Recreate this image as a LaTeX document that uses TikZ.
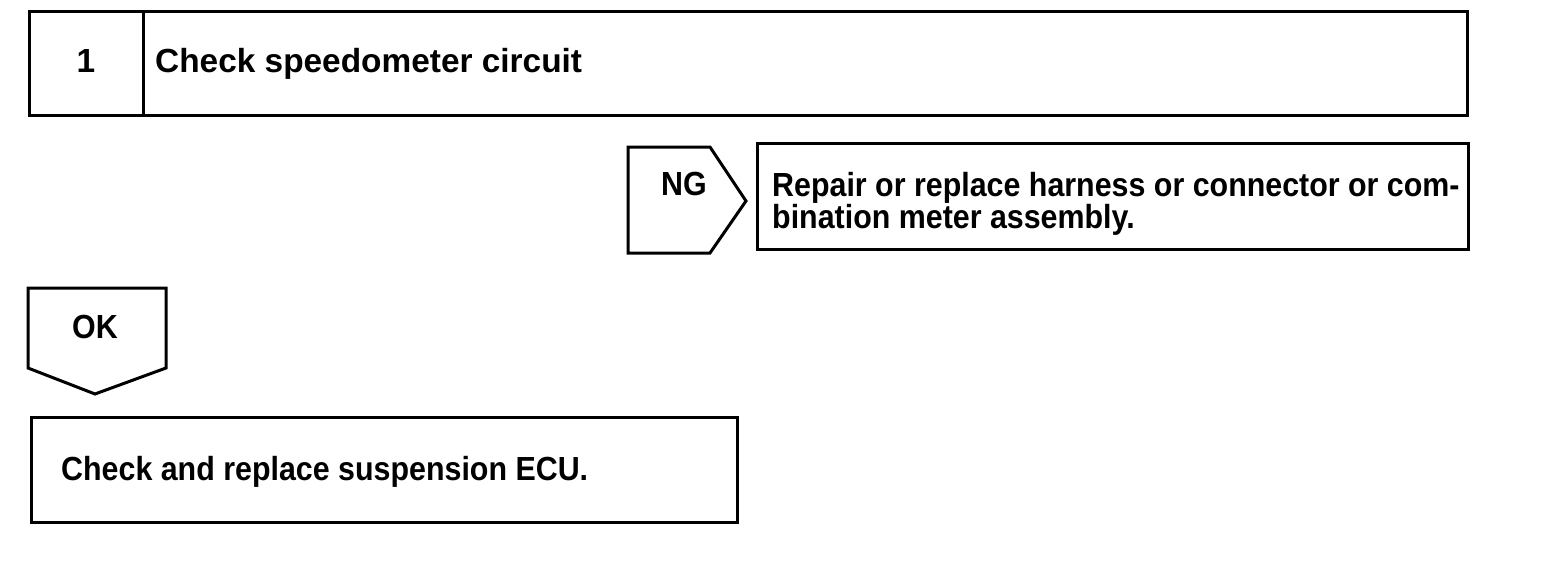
\documentclass[tikz,border=0pt]{standalone}
\usepackage{fontspec}
\setmainfont{Liberation Sans}
\newfontfamily\narrowsans[FakeStretch=0.91]{Liberation Sans}
\begin{document}
\begin{tikzpicture}[x=1pt,y=-1pt,
  box/.style={draw=black,line width=3pt,fill=white,rectangle,inner sep=0pt,anchor=north west},
  tag/.style={draw=black,line width=3pt,line join=miter},
  lbl/.style={inner sep=0pt,anchor=base,font=\fontsize{33.4}{26}\selectfont\narrowsans\bfseries},
  txt/.style={inner sep=0pt,anchor=base west,font=\fontsize{33.4}{26}\selectfont\bfseries,align=left},
  ntxt/.style={txt,font=\fontsize{33.4}{26}\selectfont\narrowsans\bfseries}]
\useasboundingbox (0,0) rectangle (1568,586);
% step box
\node[box,minimum width=1438pt,minimum height=104pt] (stepbox) at (28,10) {};
\coordinate (divtop) at (143,10);
\coordinate (divbot) at (143,114);
\draw[line width=3pt] (divtop) -- (divbot);
\node[txt,anchor=base] (num) at (86,72) {1};
\node[txt] (title) at (155,72) {Check speedometer circuit};
% NG tag
\draw[tag] (628,147) -- (710,147) -- (746,201) -- (710,253) -- (628,253) -- cycle;
\node[lbl] (ng) at (684,195) {NG};
% repair box
\node[box,minimum width=711pt,minimum height=106pt] (repair) at (756,142) {};
\node[ntxt,anchor=north west] (repairtxt) at (772,172) {Repair or replace harness or connector or com-\\bination meter assembly.};
% OK tag
\draw[tag] (28,288) -- (166,288) -- (166,368) -- (95,394) -- (28,368) -- cycle;
\node[lbl] (ok) at (95,338) {OK};
% final box
\node[box,minimum width=706pt,minimum height=105pt] (ecu) at (30,416) {};
\node[ntxt] (ecutxt) at (61,480) {Check and replace suspension ECU.};
\end{tikzpicture}
\end{document}
